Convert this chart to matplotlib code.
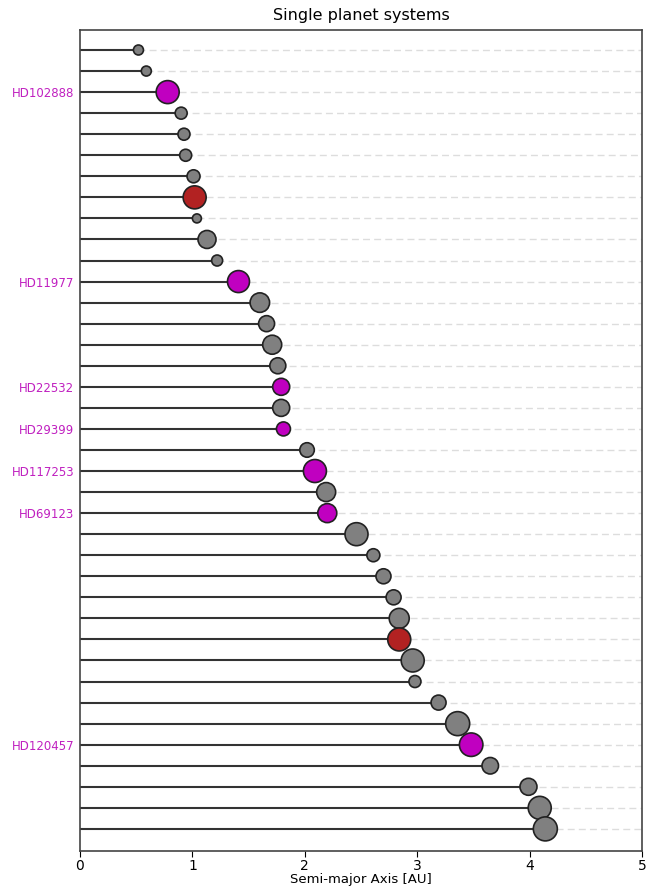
import numpy as np
import matplotlib
matplotlib.use('Agg')
import matplotlib.pyplot as plt

# semi-major axis [AU] of each single-planet system, innermost first
sma = [0.52, 0.59, 0.78, 0.90, 0.925, 0.94, 1.01, 1.02, 1.04, 1.13,
       1.22, 1.41, 1.60, 1.66, 1.71, 1.76, 1.79, 1.79, 1.81, 2.02,
       2.09, 2.19, 2.20, 2.46, 2.61, 2.70, 2.79, 2.84, 2.84, 2.96,
       2.98, 3.19, 3.36, 3.48, 3.65, 3.99, 4.09, 4.14]

# marker diameter (px) per planet
diam = [10, 10, 23, 12, 12, 12, 13, 23, 9, 18,
        11, 22, 19.5, 16, 19, 16, 17, 17, 14, 14.5,
        23, 19, 19, 23, 13, 15, 15, 20, 23, 23,
        12, 15, 24, 23.5, 16.5, 17, 23, 24]

# 'g' = default, 'm' = labelled system, 'r' = highlighted
kind = ['g', 'g', 'm', 'g', 'g', 'g', 'g', 'r', 'g', 'g',
        'g', 'm', 'g', 'g', 'g', 'g', 'm', 'g', 'm', 'g',
        'm', 'g', 'm', 'g', 'g', 'g', 'g', 'g', 'r', 'g',
        'g', 'g', 'g', 'm', 'g', 'g', 'g', 'g']

names = {2: 'HD102888', 11: 'HD11977', 16: 'HD22532', 18: 'HD29399',
         20: 'HD117253', 22: 'HD69123', 33: 'HD120457'}

colors = {'g': '#808080', 'm': '#c000c0', 'r': '#b22222'}

fig = plt.figure(figsize=(6.46, 8.90), dpi=100)
ax = fig.add_axes([80/646, 39/890, 562/646, 821/890])

y = np.arange(len(sma))
xmax = 5

for yi, a in zip(y, sma):
    ax.plot([0, a], [yi, yi], color='#333333', lw=1.5, zorder=1)
    ax.plot([a, xmax], [yi, yi], color='#dddddd', lw=1, ls=(0, (5, 3)), zorder=0)

px2pt = 72 / fig.dpi
s = [(d * px2pt) ** 2 for d in diam]
ax.scatter(sma, y, s=s, c=[colors[k] for k in kind], edgecolors='#222222',
           linewidths=1.2, zorder=3)

ax.set_xlim(0, xmax)
ax.set_ylim(len(sma) - 1 + 1.05, -0.95)
ax.set_xticks(range(6))
ax.tick_params(axis='x', labelsize=10, direction='out', length=4, pad=2)

ticks = sorted(names)
ax.set_yticks(ticks)
ax.set_yticklabels([names[t] for t in ticks], color='#c020c0', fontsize=8.5)
ax.tick_params(axis='y', length=0, pad=4)

for sp in ax.spines.values():
    sp.set_color('#444444')
    sp.set_linewidth(1.2)

ax.set_title('Single planet systems', fontsize=11.5, pad=7)
ax.set_xlabel('Semi-major Axis [AU]', fontsize=9.5, labelpad=0)

fig.savefig('out.png', dpi=100)
